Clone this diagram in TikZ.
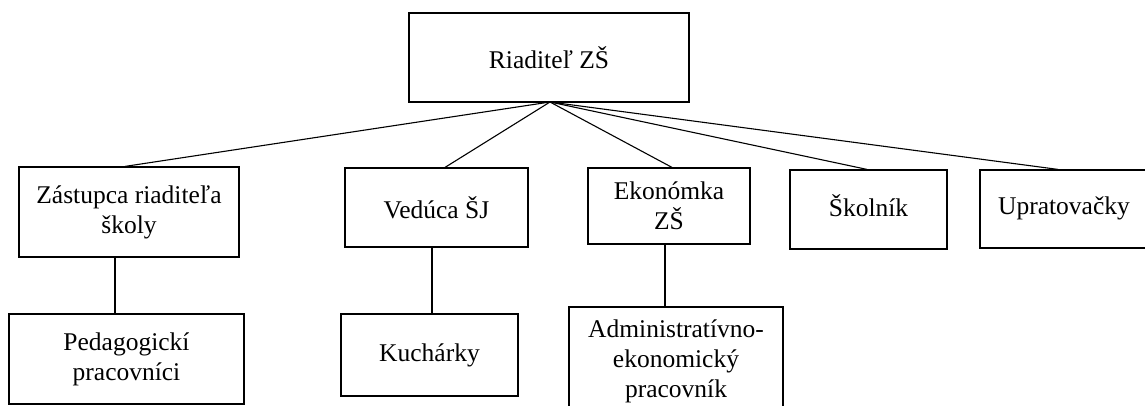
\documentclass[tikz,border=0pt]{standalone}
\usepackage{fontspec}
\setmainfont{Liberation Serif}
\begin{document}
\begin{tikzpicture}[x=1pt,y=-1pt,
  box/.style={draw, line width=1.2pt, rectangle, inner sep=0pt, align=center,
    font=\fontsize{25.5}{30}\selectfont},
  conn/.style={line width=1.1pt}]
\clip (0,0) rectangle (1145,405);
\fill[white] (0,0) rectangle (1145,405);
\node[box, minimum width=280pt, minimum height=89pt] (top) at (549,57.5) {Riaditeľ ZŠ};
\node[box, minimum width=220pt, minimum height=90pt] (zast) at (129,212) {Zástupca riaditeľa\\školy};
\node[box, minimum width=235pt, minimum height=90pt] (ped) at (126.5,359) {Pedagogickí\\pracovníci};
\node[box, minimum width=183pt, minimum height=79pt] (ved) at (436.5,207.5) {Vedúca ŠJ};
\node[box, minimum width=177pt, minimum height=82pt] (kuch) at (429.5,355) {Kuchárky};
\node[box, minimum width=162pt, minimum height=76pt] (ekon) at (669,206) {Ekonómka\\ZŠ};
\node[box, minimum width=214pt, minimum height=108pt] (adm) at (676,361) {Administratívno-\\ekonomický\\pracovník};
\node[box, minimum width=157pt, minimum height=79pt] (skol) at (868.5,209.5) {\raisebox{7pt}{Školník}};
\node[box, minimum width=168pt, minimum height=78pt] (upr) at (1064,209) {\raisebox{6pt}{Upratovačky}};
\coordinate (hub) at (550,102);
\draw[conn] (hub) -- ([xshift=-4pt]zast.north);
\draw[conn] (hub) -- ([xshift=8.5pt]ved.north);
\draw[conn] (hub) -- ([xshift=3pt]ekon.north);
\draw[conn] (hub) -- ([xshift=-1.5pt]skol.north);
\draw[conn] (hub) -- ([xshift=-6pt]upr.north);
\draw[conn] ([xshift=-14pt]zast.south) -- ([xshift=-14pt]zast.south |- ped.north);
\draw[conn] ([xshift=-4.5pt]ved.south) -- ([xshift=-4.5pt]ved.south |- kuch.north);
\draw[conn] ([xshift=-4pt]ekon.south) -- ([xshift=-4pt]ekon.south |- adm.north);
\end{tikzpicture}
\end{document}
